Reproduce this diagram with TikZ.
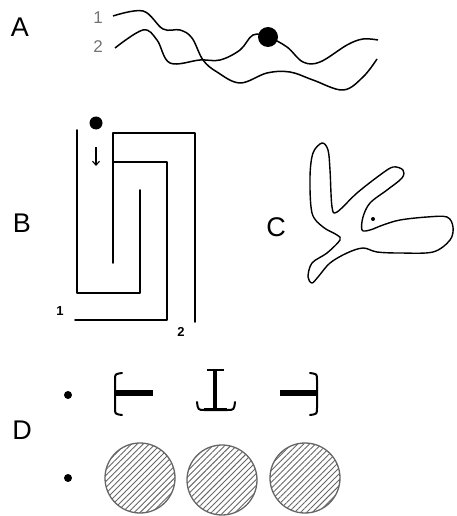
\documentclass[tikz,border=0pt]{standalone}
\usepackage{fontspec}
\setmainfont{Liberation Sans}
\usetikzlibrary{patterns.meta,arrows.meta}
\tikzset{
  panel/.style={font=\fontsize{27}{30}\selectfont,text=black},
  tag/.style={font=\fontsize{17}{19}\selectfont,text=black!55},
  btag/.style={font=\bfseries\fontsize{13}{15}\selectfont},
  wire/.style={line width=1.7pt,line cap=round,line join=round},
  bar/.style={line width=5.5pt},
  brace/.style={line width=2pt,line cap=round},
}
\begin{document}
\begin{tikzpicture}[x=1pt,y=-1pt,line join=round]
  \useasboundingbox (0,0) rectangle (457,516);

  % 第 A 部分：两条曲线
  \node[panel] (labA) at (20,27) {A};
  \node[tag] (one) at (98,18) {1};
  \node[tag] (two) at (98,47) {2};
  \draw[line width=1.5pt,smooth,tension=0.6] plot coordinates {
    (113,16) (143,11) (163,29) (180,30) (192,38) (203,60) (217,72)
    (240,83) (267,73) (290,72) (313,80) (343,90) (363,77) (377,59)};
  \draw[line width=1.5pt,smooth,tension=0.6] plot coordinates {
    (115,48) (143,30) (157,40) (170,63) (200,60) (220,60) (240,50)
    (253,35) (268,37) (287,47) (303,62) (320,62) (347,45) (363,39) (378,40)};
  \fill (268,37) circle (10);

  % 第 B 部分：三条折线
  \node[panel] (labB) at (22,223) {B};
  \draw[wire] (77,130) -- (77,293) -- (140,293) -- (140,190);
  \draw[wire] (113,263) -- (113,133) -- (195,133) -- (195,322);
  \draw[wire] (113,162) -- (167,162) -- (167,320) -- (75,320);
  \fill (96,123) circle (6.5);
  \draw[line width=1.1pt,-{Straight Barb[length=4pt,width=7pt]}] (96,147) -- (96,166);
  \node[btag] (endA) at (60,311) {1};
  \node[btag] (endB) at (181,332) {2};

  % 第 C 部分：分叉的闭合轮廓
  \node[panel] (labC) at (276,227) {C};
  \draw[line width=1.4pt,smooth cycle,tension=0.55] plot coordinates {
    (322,143) (328,150) (330,170) (332,207) (337,212) (357,193)
    (380,175) (393,167) (403,170) (402,178) (387,190) (370,203)
    (363,217) (362,230) (370,230) (383,225) (400,220) (427,217)
    (447,217) (453,227) (450,240) (433,252) (400,253) (377,252)
    (363,248) (347,253) (330,263) (318,277) (312,283) (308,277)
    (312,263) (327,253) (340,240) (337,235) (323,227) (312,213)
    (310,177) (313,153)};
  \fill (373,219) circle (2);

  % 第 D 部分：截面与圆
  \node[panel] (labD) at (22,430) {D};
  \fill (68,395) circle (4);
  \fill (68,478) circle (4);
  % 左：[-
  \draw[brace] (122,373) .. controls (115,374) .. (115,380)
    -- (115,408) .. controls (115,414) .. (122,415);
  \draw[bar] (115,393) -- (153,393);
  % 中：倒 T
  \draw[line width=4pt] (215,371) -- (215,409);
  \draw[line width=1.8pt] (207,370) -- (224,370);
  \draw[brace] (197,402) .. controls (198,410) .. (205,410)
    -- (227,410) .. controls (234,410) .. (235,402);
  \draw[line width=3pt] (204,409) -- (227,409);
  % 右：-]
  \draw[bar] (280,393) -- (317,393);
  \draw[brace] (310,373) .. controls (317,374) .. (317,380)
    -- (317,408) .. controls (317,414) .. (310,415);
  % 三个阴影圆
  \foreach \cx/\cy in {140/478, 222/480, 305/478}
    \draw[black!60,line width=1.3pt,
      pattern={Lines[angle=45,distance=4.2pt,line width=0.9pt]},
      pattern color=black!60] (\cx,\cy) circle (35);
\end{tikzpicture}
\end{document}
